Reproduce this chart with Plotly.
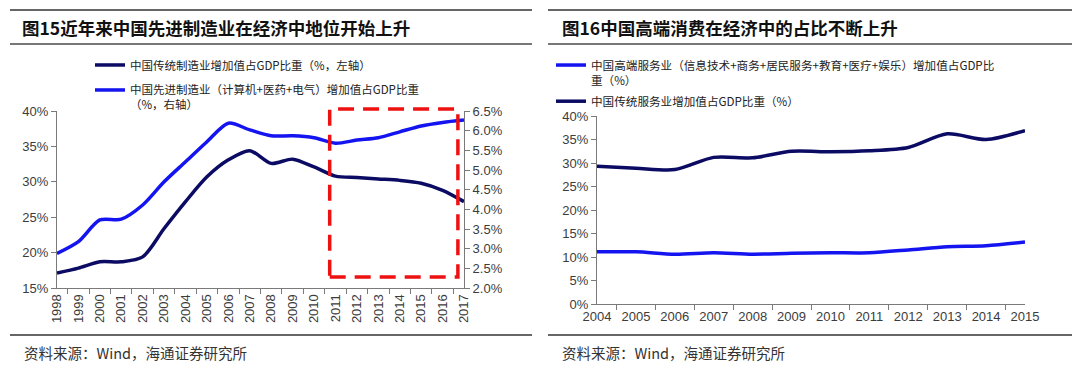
import plotly.graph_objects as go

# ---------------- data ----------------
years_left = [str(y) for y in range(1998, 2018)]
trad_mfg_share = [17.1, 17.8, 18.7, 18.7, 19.4, 23.4, 27.2, 30.7, 33.1, 34.4,
                  32.6, 33.2, 32.1, 30.8, 30.6, 30.4, 30.2, 29.8, 28.8, 27.2]
adv_mfg_share = [2.88, 3.18, 3.73, 3.75, 4.11, 4.70, 5.21, 5.72, 6.19, 6.02,
                 5.87, 5.87, 5.82, 5.68, 5.76, 5.82, 5.97, 6.12, 6.21, 6.27]

years_right = [str(y) for y in range(2004, 2016)]
high_srv_share = [11.1, 11.1, 10.6, 10.9, 10.6, 10.8, 10.9, 10.9, 11.5, 12.2, 12.4, 13.2]
trad_srv_share = [29.3, 28.9, 28.6, 31.2, 31.1, 32.5, 32.4, 32.6, 33.3, 36.2, 35.0, 36.9]

left_title = "图15近年来中国先进制造业在经济中地位开始上升"
right_title = "图16中国高端消费在经济中的占比不断上升"
name_trad_mfg = "中国传统制造业增加值占GDP比重（%，左轴）"
name_adv_mfg = "中国先进制造业（计算机+医药+电气）增加值占GDP比重<br>（%，右轴）"
name_high_srv = "中国高端服务业（信息技术+商务+居民服务+教育+医疗+娱乐）增加值占GDP比<br>重（%）"
name_trad_srv = "中国传统服务业增加值占GDP比重（%）"
source_text = "资料来源：Wind，海通证券研究所"

left_y_range = [15, 40]
right_y2_range = [2.0, 6.5]
right_chart_range = [0, 40]

# highlight box: category-index span on the left x axis, value span on the right axis
box_x = (12.9, 19.2)
box_y = (2.28, 6.55)

# ---------------- style ----------------
OFF = 8                       # page body margin of the html page
W, H = 1080 - OFF, 373 - OFF
NAVY = "#0b0b63"
BLUE = "#1414f0"
CJK = "Noto Sans CJK SC"
LAT = "Liberation Sans, Arial"
TICK_COLOR = "#3c3c3c"
AXIS_COLOR = "#7a7a7a"


def px_x(p):
    return (p - OFF) / W


def px_y(p):
    return 1 - (p - OFF) / H


fig = go.Figure()

fig.add_trace(go.Scatter(x=years_left, y=trad_mfg_share, name=name_trad_mfg, mode="lines",
                         line=dict(color=NAVY, width=3.5, shape="spline", smoothing=0.8),
                         xaxis="x", yaxis="y", legend="legend", legendgroup="a"))
fig.add_trace(go.Scatter(x=years_left, y=adv_mfg_share, name=name_adv_mfg, mode="lines",
                         line=dict(color=BLUE, width=3.5, shape="spline", smoothing=0.8),
                         xaxis="x", yaxis="y2", legend="legend", legendgroup="b"))
fig.add_trace(go.Scatter(x=years_right, y=high_srv_share, name=name_high_srv, mode="lines",
                         line=dict(color=BLUE, width=3.5, shape="spline", smoothing=0.8),
                         xaxis="x2", yaxis="y3", legend="legend2", legendgroup="c"))
fig.add_trace(go.Scatter(x=years_right, y=trad_srv_share, name=name_trad_srv, mode="lines",
                         line=dict(color=NAVY, width=3.5, shape="spline", smoothing=0.8),
                         xaxis="x2", yaxis="y3", legend="legend2", legendgroup="d"))

axis_common = dict(showgrid=False, zeroline=False, showline=True, linecolor=AXIS_COLOR,
                   linewidth=1, ticks="outside", ticklen=5, tickcolor=AXIS_COLOR,
                   tickfont=dict(family=LAT, size=13, color=TICK_COLOR))

left_dom_x = [px_x(57), px_x(464)]
left_dom_y = [px_y(288), px_y(111)]
right_dom_x = [px_x(597), px_x(1025)]
right_dom_y = [px_y(304), px_y(116)]

fig.update_layout(
    width=W, height=H,
    margin=dict(l=0, r=0, t=0, b=0, autoexpand=False),
    paper_bgcolor="white", plot_bgcolor="white",
    xaxis=dict(domain=left_dom_x, anchor="y", type="category", tickangle=-90,
               tickson="boundaries", **axis_common),
    yaxis=dict(domain=left_dom_y, anchor="x", range=left_y_range, dtick=5, ticksuffix="%",
               **axis_common),
    yaxis2=dict(domain=left_dom_y, anchor="x", overlaying="y", side="right",
                range=right_y2_range, dtick=0.5, tickformat=".1f", ticksuffix="%", **axis_common),
    xaxis2=dict(domain=right_dom_x, anchor="y3", type="category", tickangle=0,
                tickson="boundaries", **axis_common),
    yaxis3=dict(domain=right_dom_y, anchor="x2", range=right_chart_range, dtick=5, ticksuffix="%",
                **axis_common),
    legend=dict(x=px_x(90), y=px_y(51), xanchor="left", yanchor="top",
                bgcolor="rgba(0,0,0,0)", valign="top", tracegroupgap=6,
                font=dict(family=CJK, size=11.5, color="#222")),
    legend2=dict(x=px_x(551), y=px_y(51), xanchor="left", yanchor="top",
                 bgcolor="rgba(0,0,0,0)", valign="top", tracegroupgap=3,
                 font=dict(family=CJK, size=11.6, color="#222")),
    showlegend=True,
)

# horizontal rules
shapes = []
for x0, x1 in [(10, 532), (548, 1072)]:
    shapes.append(dict(type="line", xref="paper", yref="paper", x0=px_x(x0), x1=px_x(x1),
                       y0=px_y(10), y1=px_y(10), line=dict(color="#333", width=1.5)))
    shapes.append(dict(type="line", xref="paper", yref="paper", x0=px_x(x0), x1=px_x(x1),
                       y0=px_y(44), y1=px_y(44), line=dict(color="#777", width=2)))
    shapes.append(dict(type="line", xref="paper", yref="paper", x0=px_x(x0), x1=px_x(x1),
                       y0=px_y(335), y1=px_y(335), line=dict(color="#333", width=1.5)))

# red dashed highlight box, expressed in axis-domain fractions (so it is not clipped)
n_left = len(years_left)


def cat_frac(i):
    return (i + 0.5) / n_left


def y2_frac(v):
    return (v - right_y2_range[0]) / (right_y2_range[1] - right_y2_range[0])


shapes.append(dict(type="rect", xref="x domain", yref="y domain",
                   x0=cat_frac(box_x[0]), x1=cat_frac(box_x[1]),
                   y0=y2_frac(box_y[0]), y1=y2_frac(box_y[1]),
                   line=dict(color="#ee1111", width=3.5, dash="16px,9px")))
fig.update_layout(shapes=shapes)

annotations = [
    dict(text="<b>" + left_title + "</b>", x=px_x(20), y=px_y(27), xref="paper", yref="paper",
         xanchor="left", yanchor="middle", showarrow=False,
         font=dict(family=CJK, size=17.5, color="#111")),
    dict(text="<b>" + right_title + "</b>", x=px_x(560), y=px_y(27), xref="paper", yref="paper",
         xanchor="left", yanchor="middle", showarrow=False,
         font=dict(family=CJK, size=17.5, color="#111")),
    dict(text=source_text, x=px_x(22), y=px_y(352), xref="paper", yref="paper",
         xanchor="left", yanchor="middle", showarrow=False,
         font=dict(family=CJK, size=14.5, color="#333")),
    dict(text=source_text, x=px_x(560), y=px_y(352), xref="paper", yref="paper",
         xanchor="left", yanchor="middle", showarrow=False,
         font=dict(family=CJK, size=14.5, color="#333")),
]
fig.update_layout(annotations=annotations)

fig.write_html("out.html")
